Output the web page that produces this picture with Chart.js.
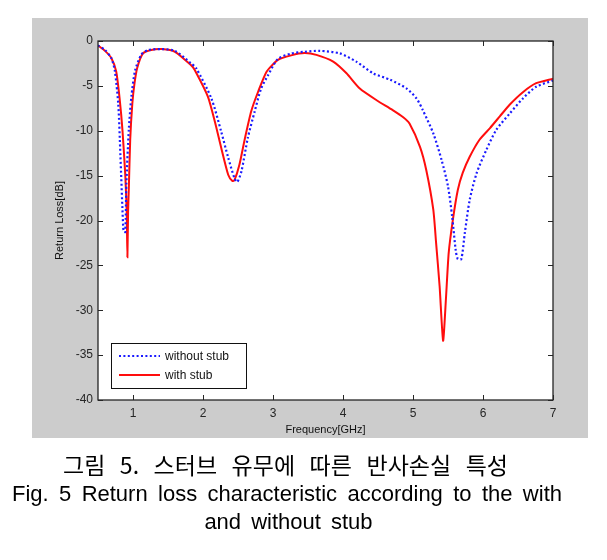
<!DOCTYPE html>
<html>
<head>
<meta charset="utf-8">
<script src="https://cdn.jsdelivr.net/npm/chart.js@4"></script>
<style>
  html, body { margin:0; padding:0; background:#fff; }
  #wrap { position:relative; width:607px; height:560px; overflow:hidden; }
  #c { position:absolute; left:0; top:0; }
  .cap { position:absolute; color:#000; white-space:nowrap; }
  #k { left:63px; top:449px; width:445px; font-family:"Noto Sans CJK KR","Noto Sans",sans-serif; font-size:23px; line-height:30px; text-align:justify; text-align-last:justify; }
  #e1 { left:12px; top:480px; width:550px; font-family:"Liberation Sans",Arial,sans-serif; font-size:22px; line-height:28px; text-align:justify; text-align-last:justify; }
  #e2 { left:0; top:508px; width:577px; font-family:"Liberation Sans",Arial,sans-serif; font-size:22px; line-height:28px; text-align:center; word-spacing:4px; }
</style>
</head>
<body>
<div id="wrap">
  <canvas id="c" width="607" height="560"></canvas>
  <div class="cap" id="k">그림 5. 스터브 유무에 따른 반사손실 특성</div>
  <div class="cap" id="e1">Fig. 5 Return loss characteristic according to the with</div>
  <div class="cap" id="e2">and without stub</div>
</div>
<script>
// ---- data ----
const freqWithout = [0.5,0.6,0.69,0.74,0.79,0.82,0.86,0.87,0.89,0.905,0.94,0.977,1.03,1.12,1.22,1.41,1.6,1.83,1.9,2.12,2.26,2.36,2.45,2.49,2.55,2.64,2.74,2.83,2.93,3.07,3.26,3.45,3.67,3.95,4.19,4.43,4.67,4.91,5.05,5.14,5.29,5.41,5.5,5.56,5.61,5.64,5.69,5.74,5.81,5.91,6.05,6.19,6.38,6.57,6.76,7.0];
const rlWithout   = [-0.5,-1.0,-1.9,-3.3,-7.1,-12.7,-20.8,-21.2,-21.3,-16,-9.9,-6.2,-3.3,-1.5,-1.0,-0.9,-1.1,-2.5,-3.0,-6.4,-10.1,-13.0,-15.3,-15.7,-14.5,-10.8,-7.8,-5.3,-3.8,-2.0,-1.4,-1.2,-1.1,-1.37,-2.3,-3.6,-4.3,-5.3,-6.4,-7.7,-10.3,-13.3,-16.2,-19.6,-23.3,-24.3,-24.3,-21.4,-17.7,-14.7,-12.1,-9.9,-8.1,-6.4,-5.1,-4.4];
const freqWith = [0.5,0.6,0.69,0.76,0.81,0.85,0.89,0.91,0.92,0.93,0.94,0.96,0.99,1.02,1.06,1.14,1.26,1.41,1.6,1.83,1.88,2.07,2.17,2.26,2.36,2.42,2.45,2.52,2.6,2.69,2.79,2.91,3.07,3.26,3.45,3.62,3.86,4.05,4.24,4.48,4.71,4.86,4.95,5.1,5.19,5.29,5.33,5.38,5.43,5.47,5.51,5.57,5.64,5.71,5.81,5.95,6.1,6.24,6.38,6.57,6.76,7.0];
const rlWith   = [-0.5,-1.1,-1.9,-3.4,-6.5,-10.0,-15.0,-19.0,-24.1,-19.0,-16.5,-11.0,-7.0,-4.8,-3.0,-1.4,-1.0,-0.9,-1.2,-2.7,-3.2,-6.2,-9.0,-11.9,-14.9,-15.6,-15.5,-13.8,-10.8,-7.8,-5.6,-3.4,-2.1,-1.6,-1.35,-1.55,-2.3,-3.6,-5.3,-6.6,-7.7,-8.5,-9.2,-11.8,-14.4,-18.8,-22.5,-27.3,-33.4,-28.8,-23.6,-19.9,-16.6,-14.7,-12.9,-11.0,-9.7,-8.4,-7.1,-5.7,-4.7,-4.2];
const xTicks = [1,2,3,4,5,6,7];
const yTicks = [0,-5,-10,-15,-20,-25,-30,-35,-40];
const seriesNames = ['without stub','with stub'];
const xTitle = 'Frequency[GHz]';
const yTitle = 'Return Loss[dB]';

const toXY = (xs, ys) => xs.map((x, i) => ({x, y: ys[i]}));

const framePlugin = {
  id: 'frame',
  beforeDraw(chart) {
    const ctx = chart.ctx, a = chart.chartArea;
    ctx.save();
    ctx.fillStyle = '#ffffff';
    ctx.fillRect(0, 0, chart.width, chart.height);
    ctx.fillStyle = '#cccccc';
    ctx.fillRect(32, 18, 556, 420);
    ctx.fillStyle = '#ffffff';
    ctx.fillRect(a.left, a.top, a.right - a.left, a.bottom - a.top);
    ctx.restore();
  },
  afterDatasetsDraw(chart) {
    const ctx = chart.ctx, a = chart.chartArea;
    const xs = chart.scales.x, ys = chart.scales.y;
    ctx.save();
    ctx.strokeStyle = '#262626';
    ctx.lineWidth = 1;
    ctx.beginPath();
    const L = 5;
    xTicks.forEach(v => {
      const px = Math.round(xs.getPixelForValue(v)) + 0.5;
      ctx.moveTo(px, a.bottom); ctx.lineTo(px, a.bottom - L);
      ctx.moveTo(px, a.top); ctx.lineTo(px, a.top + L);
    });
    yTicks.forEach(v => {
      const py = Math.round(ys.getPixelForValue(v)) + 0.5;
      ctx.moveTo(a.left, py); ctx.lineTo(a.left + L, py);
      ctx.moveTo(a.right, py); ctx.lineTo(a.right - L, py);
    });
    ctx.stroke();
    ctx.lineWidth = 1.3;
    ctx.strokeRect(a.left, a.top, a.right - a.left, a.bottom - a.top);

    // legend box
    const bx = 111, by = 343, bw = 135, bh = 45;
    ctx.fillStyle = '#ffffff';
    ctx.fillRect(bx, by, bw, bh);
    ctx.strokeStyle = '#111';
    ctx.lineWidth = 1;
    ctx.strokeRect(bx + 0.5, by + 0.5, bw, bh);
    const ds = chart.data.datasets;
    const rows = [356, 375];
    ds.forEach((d, i) => {
      ctx.beginPath();
      ctx.strokeStyle = d.borderColor;
      ctx.lineWidth = d.borderWidth;
      ctx.setLineDash(d.borderDash || []);
      ctx.moveTo(119, rows[i]); ctx.lineTo(160, rows[i]);
      ctx.stroke();
      ctx.setLineDash([]);
      ctx.fillStyle = '#111';
      ctx.font = '12px "Liberation Sans", Arial, sans-serif';
      ctx.textBaseline = 'middle';
      ctx.fillText(d.label, 165, rows[i] + 1);
    });
    ctx.restore();
  }
};

new Chart(document.getElementById('c'), {
  type: 'line',
  data: {
    datasets: [
      { label: seriesNames[0], data: toXY(freqWithout, rlWithout), borderColor: '#1a1aff', borderWidth: 2.2, borderDash: [2, 2.4], pointRadius: 0, fill: false, tension: 0.25 },
      { label: seriesNames[1], data: toXY(freqWith, rlWith), borderColor: '#ff0d0d', borderWidth: 2, pointRadius: 0, fill: false, tension: 0.2 }
    ]
  },
  options: {
    responsive: false,
    animation: false,
    devicePixelRatio: 1,
    layout: { padding: { left: 32, top: 41, right: 54, bottom: 122 } },
    plugins: { legend: { display: false }, tooltip: { enabled: false } },
    scales: {
      x: {
        type: 'linear', min: 0.5, max: 7,
        afterBuildTicks(s) { s.ticks = xTicks.map(v => ({value: v})); },
        afterFit(s) { s.height = 38; },
        grid: { display: false, drawTicks: false },
        border: { display: false },
        ticks: { padding: 6, color: '#262626', font: { family: '"Liberation Sans", Arial, sans-serif', size: 12 }, maxRotation: 0 },
        title: { display: true, text: xTitle, color: '#111', font: { family: '"Liberation Sans", Arial, sans-serif', size: 11 }, padding: { top: 0, bottom: 1 } }
      },
      y: {
        type: 'linear', min: -40, max: 0,
        afterBuildTicks(s) { s.ticks = yTicks.map(v => ({value: v})); },
        afterFit(s) { s.width = 66; },
        grid: { display: false, drawTicks: false },
        border: { display: false },
        ticks: { padding: 5, color: '#262626', font: { family: '"Liberation Sans", Arial, sans-serif', size: 12 } },
        title: { display: true, text: yTitle, color: '#111', font: { family: '"Liberation Sans", Arial, sans-serif', size: 11 }, padding: { top: 21, bottom: 0 } }
      }
    }
  },
  plugins: [framePlugin]
});
</script>
</body>
</html>
